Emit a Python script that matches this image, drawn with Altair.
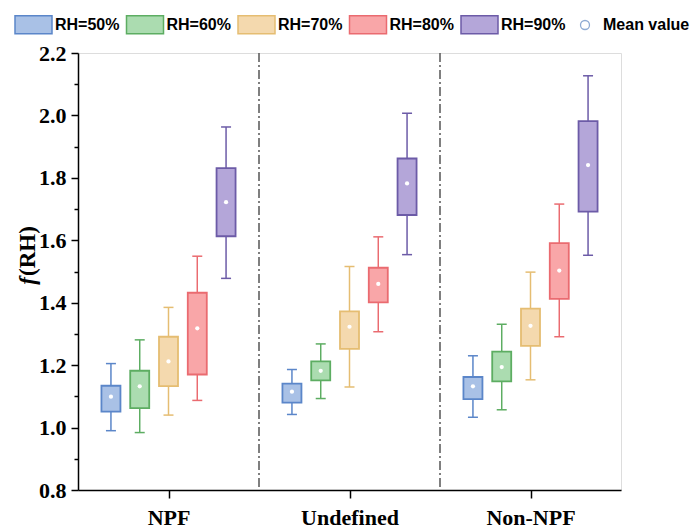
import altair as alt
import pandas as pd

groups = ["NPF", "Undefined", "Non-NPF"]
rh_levels = ["RH=50%", "RH=60%", "RH=70%", "RH=80%", "RH=90%"]

whisker_low = {
    "NPF": [0.990, 0.984, 1.040, 1.087, 1.478],
    "Undefined": [1.042, 1.093, 1.130, 1.307, 1.554],
    "Non-NPF": [1.033, 1.057, 1.153, 1.291, 1.552],
}
q1 = {
    "NPF": [1.051, 1.062, 1.133, 1.170, 1.613],
    "Undefined": [1.080, 1.151, 1.252, 1.401, 1.681],
    "Non-NPF": [1.091, 1.148, 1.262, 1.412, 1.692],
}
mean = {
    "NPF": [1.099, 1.132, 1.212, 1.318, 1.722],
    "Undefined": [1.115, 1.182, 1.323, 1.460, 1.782],
    "Non-NPF": [1.132, 1.194, 1.326, 1.503, 1.841],
}
q3 = {
    "NPF": [1.134, 1.182, 1.291, 1.432, 1.831],
    "Undefined": [1.141, 1.212, 1.372, 1.512, 1.862],
    "Non-NPF": [1.162, 1.243, 1.381, 1.591, 1.982],
}
whisker_high = {
    "NPF": [1.205, 1.281, 1.385, 1.549, 1.963],
    "Undefined": [1.186, 1.268, 1.516, 1.611, 2.007],
    "Non-NPF": [1.230, 1.331, 1.498, 1.716, 2.127],
}
separators = [0.5, 1.5]
y_ticks = [round(0.8 + 0.1 * i, 1) for i in range(15)]
mean_label = ["Mean value"]

fills = ["#a9c1e6", "#abdcb0", "#f4d9ae", "#f9a6a8", "#b4a6d9"]
strokes = ["#5b86c9", "#5dad62", "#e5bd72", "#ea6b70", "#6c5ba7"]

rows = []
for gi, g in enumerate(groups):
    for ri, r in enumerate(rh_levels):
        rows.append(dict(group=g, gi=gi, rh=r, ri=ri,
                         lo=whisker_low[g][ri], q1=q1[g][ri], mean=mean[g][ri],
                         q3=q3[g][ri], hi=whisker_high[g][ri]))
df = pd.DataFrame(rows)

xscale = alt.Scale(domain=[-0.5, 2.5], nice=False, zero=False)
yscale = alt.Scale(domain=[0.8, 2.2], nice=False, zero=False)

label_js = "[" + ",".join("'%s'" % g for g in groups) + "]"
xaxis = alt.Axis(values=[0, 1, 2], labelExpr=label_js + "[datum.value]",
                 title=None, grid=False, tickSize=8, tickWidth=1.5, tickColor="black",
                 domainColor="black", domainWidth=1.5, labelPadding=9,
                 labelFont="Liberation Serif", labelFontSize=22, labelFontWeight="bold",
                 labelColor="black", labelFlush=False)
yaxis = alt.Axis(values=y_ticks,
                 labelExpr="round(datum.value*10) % 2 == 0 ? format(datum.value, '.1f') : ''",
                 title=None, grid=False,
                 tickSize={"condition": {"test": "round(datum.value*10) % 2 == 0", "value": 7}, "value": 4},
                 tickWidth=1.5, tickColor="black", domainColor="black", domainWidth=1.5,
                 labelPadding=5, labelFont="Liberation Serif", labelFontSize=22,
                 labelFontWeight="bold", labelColor="black", labelFlush=False)

fill_js = "[" + ",".join("'%s'" % c for c in fills) + "]"
stroke_js = "[" + ",".join("'%s'" % c for c in strokes) + "]"

base = alt.Chart(df).transform_calculate(
    xc="datum.gi + (datum.ri - 2) * 0.159"
).transform_calculate(
    bx1="datum.xc - 0.0525",
    bx2="datum.xc + 0.0525",
    cx1="datum.xc - 0.0276",
    cx2="datum.xc + 0.0276",
    fillc=fill_js + "[datum.ri]",
    strokec=stroke_js + "[datum.ri]",
)

sep = alt.Chart(pd.DataFrame({"sep": separators})).mark_rule(
    strokeDash=[9, 3, 2, 3], color="#555555", strokeWidth=1.5
).encode(x=alt.X("sep:Q", scale=xscale, axis=xaxis))

whisker = base.mark_rule(strokeWidth=1.5).encode(
    x=alt.X("xc:Q", scale=xscale, axis=xaxis),
    y=alt.Y("lo:Q", scale=yscale, axis=yaxis),
    y2="hi:Q",
    stroke=alt.Stroke("strokec:N", scale=None),
)
cap_lo = base.mark_rule(strokeWidth=1.5).encode(
    x=alt.X("cx1:Q", scale=xscale, axis=xaxis), x2="cx2:Q",
    y=alt.Y("lo:Q", scale=yscale, axis=yaxis),
    stroke=alt.Stroke("strokec:N", scale=None),
)
cap_hi = base.mark_rule(strokeWidth=1.5).encode(
    x=alt.X("cx1:Q", scale=xscale, axis=xaxis), x2="cx2:Q",
    y=alt.Y("hi:Q", scale=yscale, axis=yaxis),
    stroke=alt.Stroke("strokec:N", scale=None),
)
box = base.mark_rect(strokeWidth=1.8).encode(
    x=alt.X("bx1:Q", scale=xscale, axis=xaxis), x2="bx2:Q",
    y=alt.Y("q1:Q", scale=yscale, axis=yaxis), y2="q3:Q",
    fill=alt.Fill("fillc:N", scale=None),
    stroke=alt.Stroke("strokec:N", scale=None),
)
mean_pts = base.mark_point(filled=True, color="white", size=18, opacity=1).encode(
    x=alt.X("xc:Q", scale=xscale, axis=xaxis),
    y=alt.Y("mean:Q", scale=yscale, axis=yaxis),
)

# legends (marks clipped away; only the legends show)
rect_path = "M-1,-0.49H1V0.49H-1Z"
leg1 = alt.Legend(orient="none", legendX=-64, legendY=-48, direction="horizontal",
                  columns=5, title=None, symbolType=rect_path, symbolSize=1369,
                  symbolStrokeWidth=1.5, labelFont="Liberation Sans", labelFontSize=16,
                  labelFontWeight="bold", labelColor="black", labelOffset=2,
                  columnPadding=3.5, padding=0, labelLimit=300, symbolOpacity=1)
legend_layer = alt.Chart(pd.DataFrame({"key": rh_levels})).mark_point(
    filled=True, opacity=1, clip=True
).encode(
    x=alt.value(-400), y=alt.value(-400),
    fill=alt.Fill("key:N", scale=alt.Scale(domain=rh_levels, range=fills), legend=leg1),
    stroke=alt.Stroke("key:N", scale=alt.Scale(domain=rh_levels, range=strokes), legend=leg1),
)
leg2 = alt.Legend(orient="none", legendX=499, legendY=-36, direction="horizontal",
                  title=None, symbolType="circle", symbolSize=81, symbolStrokeWidth=1.3,
                  symbolStrokeColor="#8fabd3",
                  labelFont="Liberation Sans", labelFontSize=16,
                  labelFontWeight="bold", labelColor="black", labelOffset=10,
                  padding=0, labelLimit=300, symbolOpacity=1)
mean_legend_layer = alt.Chart(pd.DataFrame({"key": mean_label})).mark_point(
    filled=False, color="#8fabd3", strokeWidth=1.3, opacity=1, clip=True
).encode(
    x=alt.value(-400), y=alt.value(-400),
    shape=alt.Shape("key:N", scale=alt.Scale(domain=mean_label, range=["circle"]), legend=leg2),
)

title_df = pd.DataFrame({"t": ["f(RH)"]})
title_f = alt.Chart(title_df).mark_text(
    text="f", angle=270, align="right", baseline="middle", font="Liberation Serif",
    fontSize=23, fontWeight="bold", fontStyle="italic", color="black"
).encode(x=alt.value(-50), y=alt.value(224))
title_rh = alt.Chart(title_df).mark_text(
    text="(RH)", angle=270, align="left", baseline="middle", font="Liberation Serif",
    fontSize=23, fontWeight="bold", color="black"
).encode(x=alt.value(-50), y=alt.value(223))

chart = alt.layer(
    sep, whisker, cap_lo, cap_hi, box, mean_pts, legend_layer, mean_legend_layer,
    title_f, title_rh
).properties(
    width=543, height=437,
    autosize=alt.AutoSizeParams(type="none"),
    padding={"left": 78, "top": 53, "right": 72, "bottom": 40},
).configure_view(stroke="black", strokeWidth=1.5).configure(background="white")

chart.save("out.html", embed_options={"renderer": "svg", "actions": False})
